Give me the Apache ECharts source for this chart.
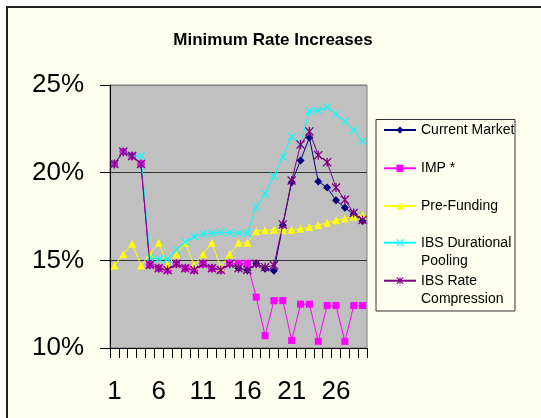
<!DOCTYPE html>
<html>
<head>
<meta charset="utf-8">
<script src="https://cdn.jsdelivr.net/npm/echarts@6/dist/echarts.min.js"></script>
<style>
html,body{margin:0;padding:0;background:#fff;}
#bg{position:absolute;left:6px;top:6px;width:600px;height:500px;background:#FFFFF0;border-left:2px solid #222;border-top:2px solid #222;}
#main{position:absolute;left:0;top:0;width:541px;height:418px;}
</style>
</head>
<body>
<div id="bg"></div>
<div id="main"></div>
<script>
const categories = ['1','2','3','4','5','6','7','8','9','10','11','12','13','14','15','16','17','18','19','20','21','22','23','24','25','26','27','28','29'];
const seriesNames = ['Current Market','IMP *','Pre-Funding','IBS Durational Pooling','IBS Rate Compression'];
const currentMarket = [20.5,21.2,20.95,20.5,14.75,14.55,14.45,14.8,14.55,14.45,14.8,14.55,14.45,14.8,14.55,14.43,14.8,14.52,14.4,17.0,19.45,20.7,22.0,19.5,19.15,18.43,18.0,17.63,17.25];
const imp = [20.5,21.2,20.95,20.5,14.75,14.55,14.45,14.8,14.55,14.45,14.8,14.55,14.45,14.83,14.83,14.83,12.9,10.7,12.7,12.7,10.43,12.5,12.5,10.38,12.42,12.42,10.38,12.42,12.42];
const preFunding = [14.7,15.35,15.95,14.7,15.35,16.0,14.7,15.35,16.0,14.7,15.35,16.0,14.6,15.35,16.0,16.0,16.66,16.72,16.74,16.72,16.74,16.8,16.9,17.0,17.15,17.28,17.38,17.48,17.57];
const ibsDurational = [20.5,21.2,20.95,20.95,15.15,15.07,15.07,15.6,16.05,16.35,16.5,16.55,16.6,16.57,16.55,16.55,18.05,18.8,19.8,20.9,22.05,21.65,23.5,23.55,23.73,23.33,22.93,22.42,21.8];
const ibsRate = [20.5,21.2,20.95,20.5,14.75,14.55,14.45,14.8,14.55,14.45,14.8,14.55,14.45,14.8,14.55,14.45,14.8,14.6,14.72,17.05,19.55,21.6,22.35,21.0,20.6,19.15,18.45,17.7,17.3];
const yTicks = [10,15,20,25];

const FONT = 'Liberation Sans, Arial, sans-serif';
const xPath = 'path://M0,1 L1,0 L5,4 L9,0 L10,1 L6,5 L10,9 L9,10 L5,6 L1,10 L0,9 L4,5 Z';
const starPath = 'path://M0,1 L1,0 L5,4 L9,0 L10,1 L6,5 L10,9 L9,10 L5,6 L1,10 L0,9 L4,5 Z M4.3,0 L5.7,0 L5.7,10 L4.3,10 Z';

const colors = ['#000080','#FF00FF','#FFFF00','#00FFFF','#800080'];
const symbols = ['diamond','rect','triangle',xPath,starPath];
const sizes = [8,7,8,8,9];
const datas = [currentMarket, imp, preFunding, ibsDurational, ibsRate];

const series = seriesNames.map((n,i)=>({
  name:n, type:'line', data:datas[i],
  symbol:symbols[i], symbolSize:sizes[i], showAllSymbol:true,
  lineStyle:{color:colors[i], width:1},
  itemStyle:{color:colors[i]},
  z: 2+i,
  emphasis:{disabled:true},
  animation:false
}));

const legendTops = [121, 159.3, 197, 215.7, 253.7];
const legendFmt = ['Current Market','IMP *','Pre-Funding','\nIBS Durational\nPooling','\nIBS Rate\nCompression'];
const legends = seriesNames.map((n,i)=>({
  data:[n], orient:'vertical', left:383, top:legendTops[i], padding:0,
  itemWidth:32, itemHeight:9, selectedMode:false,
  formatter: () => legendFmt[i],
  textStyle:{fontFamily:FONT, fontSize:14, color:'#000', lineHeight:18}
}));

const chart = echarts.init(document.getElementById('main'), null, {renderer:'canvas'});
chart.setOption({
  backgroundColor:'transparent',
  animation:false,
  title:{text:'Minimum Rate Increases', left:268, textAlign:'center', top:27,
    textStyle:{fontFamily:FONT, fontSize:17, fontWeight:'bold', color:'#000'}},
  legend: legends,
  graphic:[{type:'rect', shape:{x:376, y:119.5, width:139, height:191.5},
    style:{fill:'none', stroke:'#333', lineWidth:1}}],
  grid:{left:110, top:85, width:257, height:263, show:true, backgroundColor:'#C0C0C0', borderColor:'#808080', borderWidth:1},
  xAxis:{type:'category', data:categories, boundaryGap:true,
    axisLine:{lineStyle:{color:'#000', width:1}},
    axisTick:{show:true, interval:0, length:10, lineStyle:{color:'#000'}},
    axisLabel:{interval:4, fontFamily:FONT, fontSize:26, color:'#000', margin:31},
    splitLine:{show:false}},
  yAxis:{type:'value', min:yTicks[0], max:yTicks[yTicks.length-1], interval:5,
    axisLine:{show:true, lineStyle:{color:'#000', width:1}},
    axisTick:{show:true, length:10, lineStyle:{color:'#000'}},
    axisLabel:{formatter:'{value}%', fontFamily:FONT, fontSize:26, color:'#000', margin:26},
    splitLine:{show:true, lineStyle:{color:['#000','#333','#333','#808080'], width:1}}},
  series: series
});
</script>
</body>
</html>
